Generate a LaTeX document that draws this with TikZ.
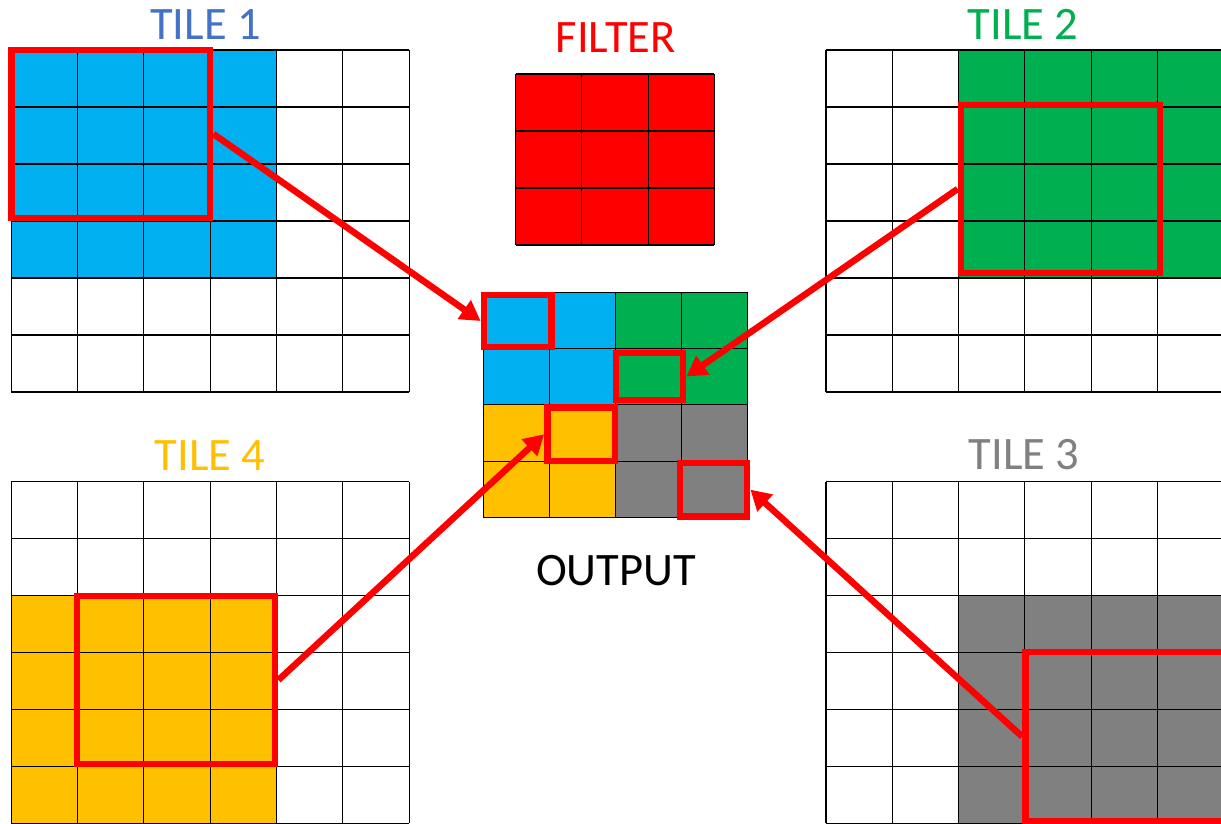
\documentclass[tikz,border=0pt]{standalone}
\usepackage{fontspec}
\setmainfont{Carlito}
\usetikzlibrary{arrows.meta}
\definecolor{tblue}{HTML}{00B0F0}
\definecolor{tgreen}{HTML}{00B050}
\definecolor{tyellow}{HTML}{FFC000}
\definecolor{tgray}{HTML}{808080}
\definecolor{tred}{HTML}{FF0000}
\definecolor{lblue}{HTML}{4472C4}
\newcommand{\cellgrid}[6]{%
  \foreach \i in {0,...,#3} \draw[gridline] ({#1+\i*#5},#2) -- ({#1+\i*#5},{#2+#4*#6});
  \foreach \j in {0,...,#4} \draw[gridline] (#1,{#2+\j*#6}) -- ({#1+#3*#5},{#2+\j*#6});
}
\begin{document}
\begin{tikzpicture}[x=1pt,y=-1pt,
  gridline/.style={draw=black, line width=1.1pt},
  redbox/.style={draw=tred, line width=6.8pt, rectangle, inner sep=0pt, fill=none},
  conn/.style={draw=tred, line width=6.5pt, -{Triangle[length=20pt,width=22pt]}},
  lbl/.style={font=\fontsize{46.5}{54}\selectfont, anchor=base, inner sep=0pt}]
\useasboundingbox (0,0) rectangle (1221,824);
\fill[white] (0,0) rectangle (1221,824);
% ---- fills ----
\fill[tblue] (11.3,50) rectangle (276.5,278);
\fill[tgreen] (958.6,50) rectangle (1224,278);
\fill[tgray] (958.6,595.5) rectangle (1224,823.3);
\fill[tyellow] (11.3,595.5) rectangle (276.5,823.3);
\fill[tred] (515.7,74) rectangle (714.3,245);
\fill[tblue] (483.3,292.3) rectangle (615.3,404.8);
\fill[tgreen] (615.3,292.3) rectangle (747.3,404.8);
\fill[tyellow] (483.3,404.8) rectangle (615.3,517.3);
\fill[tgray] (615.3,404.8) rectangle (747.3,517.3);
% ---- grids ----
\cellgrid{11.3}{50}{6}{6}{66.3}{57}
\cellgrid{826}{50}{6}{6}{66.3}{57}
\cellgrid{826}{481.7}{6}{6}{66.3}{56.9}
\cellgrid{11.3}{481.7}{6}{6}{66.3}{56.9}
\cellgrid{515.7}{74}{3}{3}{66.2}{57}
\cellgrid{483.3}{292.3}{4}{4}{66}{56.25}
% ---- labels ----
\node[lbl, text=lblue] (t1) at (205.5,39.5) {TILE 1};
\node[lbl, text=tgreen] (t2) at (1023,39.5) {TILE 2};
\node[lbl, text=tgray] (t3) at (1024,469.5) {TILE 3};
\node[lbl, text=tyellow] (t4) at (210,470) {TILE 4};
\node[lbl, text=tred] (tf) at (615.8,52.7) {FILTER};
\node[lbl, text=black] (to) at (616,585) {OUTPUT};
% ---- red windows ----
\node[redbox, minimum width=198.3pt, minimum height=168pt] (r1) at (110.85,134) {};
\node[redbox, minimum width=199pt, minimum height=168pt] (r2) at (1060.5,189) {};
\node[redbox, minimum width=198.5pt, minimum height=169pt] (r3) at (1124.75,736.5) {};
\node[redbox, minimum width=198pt, minimum height=168pt] (r4) at (176,680) {};
\node[redbox, minimum width=67.7pt, minimum height=52pt] (o1) at (517.85,321) {};
\node[redbox, minimum width=67pt, minimum height=47pt] (o2) at (649.5,376.5) {};
\node[redbox, minimum width=67.5pt, minimum height=53.5pt] (o3) at (581.25,434.25) {};
\node[redbox, minimum width=67pt, minimum height=53.3pt] (o4) at (713.5,489.65) {};
% ---- connectors ----
\draw[conn] (r1.east) -- (o1.west);
\draw[conn] (r2.west) -- (o2.east);
\draw[conn] (r4.east) -- (o3.west);
\draw[conn] (r3.west) -- (o4.east);
\end{tikzpicture}
\end{document}
